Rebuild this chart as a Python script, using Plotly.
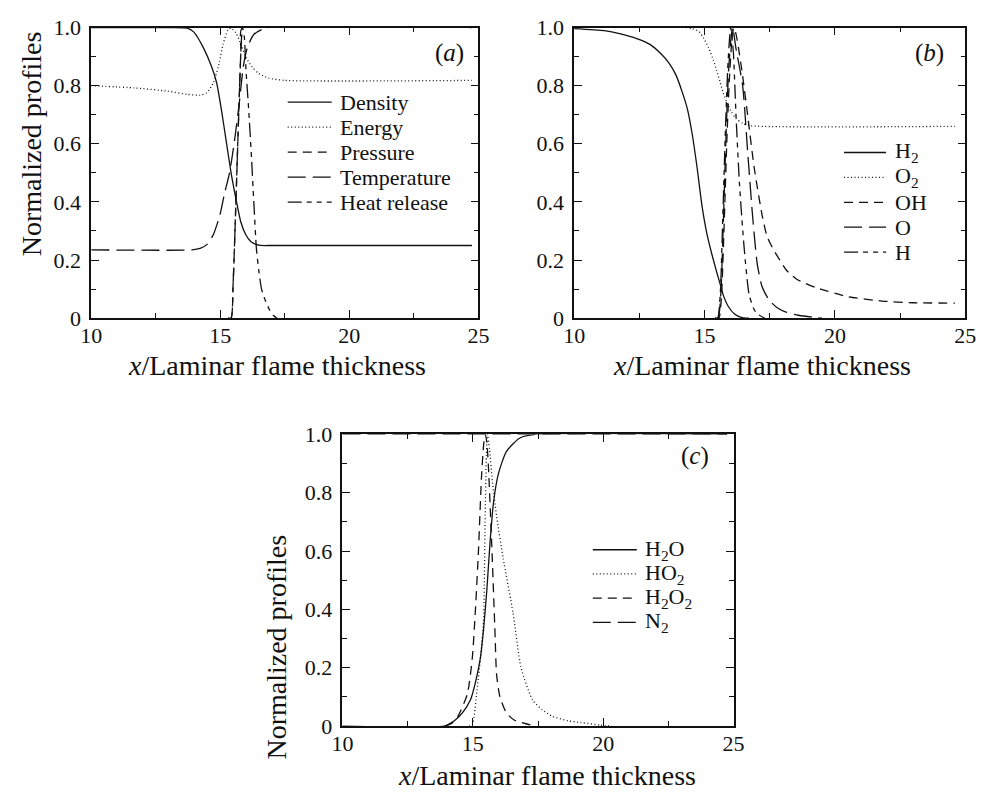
import plotly.graph_objects as go

# ---------------- data: normalized profiles vs x / laminar flame thickness ----------------
# (a) flow variables
A_DENS_X = [10, 13.0, 13.72, 13.97, 14.35, 14.67, 14.86, 15.04, 15.23, 15.42, 15.61, 15.8, 15.99, 16.18, 16.5, 17.0, 24.75]
A_DENS_Y = [1.0, 1.0, 0.998, 0.985, 0.93, 0.864, 0.81, 0.72, 0.61, 0.50, 0.41, 0.33, 0.287, 0.264, 0.251, 0.25, 0.25]

A_ENERGY_X = [10, 11.7, 12.96, 13.72, 14.22, 14.48, 14.73, 14.92, 15.11, 15.3, 15.42, 15.61, 15.8, 15.99, 16.24, 16.49, 16.87, 17.5, 24.75]
A_ENERGY_Y = [0.80, 0.792, 0.781, 0.77, 0.767, 0.776, 0.809, 0.864, 0.942, 0.992, 0.998, 0.981, 0.942, 0.898, 0.864, 0.842, 0.826, 0.818, 0.818]

A_PRESS_X = [15.3, 15.42, 15.5, 15.6, 15.7, 15.8, 15.86, 24.75]
A_PRESS_Y = [0, 0, 0.12, 0.38, 0.66, 0.92, 1.0, 1.0]

A_TEMP_X = [10, 13.9, 14.22, 14.48, 14.73, 14.98, 15.17, 15.36, 15.55, 15.74, 15.89, 16.05, 16.3, 16.75, 24.75]
A_TEMP_Y = [0.235, 0.235, 0.24, 0.253, 0.287, 0.353, 0.431, 0.5, 0.609, 0.742, 0.864, 0.931, 0.976, 0.998, 1.0]

A_HEAT_X = [15.3, 15.42, 15.5, 15.6, 15.7, 15.8, 15.86, 15.93, 16.0, 16.1, 16.2, 16.3, 16.4, 16.5, 16.6, 16.75, 16.9, 17.05, 17.2]
A_HEAT_Y = [0, 0, 0.12, 0.38, 0.66, 0.92, 1.0, 0.97, 0.85, 0.72, 0.57, 0.40, 0.24, 0.16, 0.10, 0.06, 0.03, 0.01, 0]

# (b) reactants and radicals
B_H2_X = [10, 11.15, 11.78, 12.4, 12.9, 13.28, 13.65, 13.9, 14.15, 14.34, 14.53, 14.71, 14.9, 15.09, 15.28, 15.46, 15.59, 15.71, 15.9, 16.15, 16.4, 16.7]
B_H2_Y = [0.996, 0.989, 0.978, 0.962, 0.942, 0.914, 0.876, 0.837, 0.776, 0.72, 0.631, 0.52, 0.387, 0.29, 0.22, 0.16, 0.12, 0.081, 0.042, 0.014, 0.003, 0]

B_O2_X = [10, 14.3, 14.53, 14.78, 14.96, 15.15, 15.34, 15.46, 15.59, 15.71, 15.88, 16.03, 16.21, 16.46, 16.78, 24.6]
B_O2_Y = [1.0, 1.0, 0.996, 0.987, 0.964, 0.931, 0.887, 0.853, 0.814, 0.776, 0.737, 0.709, 0.687, 0.67, 0.662, 0.66]

B_OH_X = [15.4, 15.55, 15.65, 15.75, 15.85, 15.95, 16.05, 16.12, 16.2, 16.3, 16.45, 16.65, 16.9, 17.21, 17.4, 17.65, 18.15, 18.52, 19.28, 20.5, 21.8, 23.0, 24.6]
B_OH_Y = [0, 0, 0.08, 0.32, 0.6, 0.82, 0.96, 1.0, 0.98, 0.93, 0.84, 0.70, 0.52, 0.353, 0.28, 0.235, 0.164, 0.135, 0.105, 0.074, 0.059, 0.053, 0.052]

B_O_X = [15.4, 15.52, 15.62, 15.72, 15.82, 15.92, 16.02, 16.08, 16.2, 16.46, 16.65, 16.84, 17.02, 17.2, 17.46, 17.8, 18.15, 18.6, 19.15, 19.5]
B_O_Y = [0, 0, 0.08, 0.33, 0.62, 0.85, 0.97, 1.0, 0.93, 0.80, 0.576, 0.353, 0.187, 0.11, 0.064, 0.035, 0.02, 0.01, 0.003, 0]

B_H_X = [15.4, 15.5, 15.6, 15.7, 15.8, 15.9, 16.0, 16.1, 16.21, 16.34, 16.52, 16.71, 16.9, 17.02, 17.3]
B_H_Y = [0, 0, 0.08, 0.35, 0.65, 0.88, 1.0, 0.92, 0.69, 0.46, 0.24, 0.08, 0.03, 0.015, 0]

# (c) products, intermediates and inert
C_H2O_X = [10, 13.9, 14.29, 14.6, 14.91, 15.1, 15.29, 15.42, 15.54, 15.66, 15.79, 15.98, 16.29, 16.79, 17.4, 24.75]
C_H2O_Y = [0, 0, 0.018, 0.045, 0.09, 0.15, 0.234, 0.34, 0.47, 0.63, 0.765, 0.865, 0.942, 0.987, 1.0, 1.0]

C_HO2_X = [14.85, 14.98, 15.16, 15.3, 15.41, 15.47, 15.52, 15.56, 15.64, 15.76, 15.91, 16.16, 16.54, 16.85, 17.29, 17.66, 18.04, 18.66, 19.16, 19.9, 20.3]
C_HO2_Y = [0, 0.005, 0.123, 0.24, 0.36, 0.7, 0.93, 1.0, 0.95, 0.83, 0.72, 0.577, 0.389, 0.2, 0.09, 0.056, 0.034, 0.018, 0.012, 0.003, 0]

C_H2O2_X = [13.95, 14.2, 14.41, 14.79, 14.98, 15.1, 15.22, 15.33, 15.42, 15.48, 15.54, 15.6, 15.73, 15.85, 15.91, 16.04, 16.29, 16.6, 17.04, 17.4]
C_H2O2_Y = [0, 0.01, 0.03, 0.11, 0.234, 0.4, 0.61, 0.85, 0.97, 1.0, 0.97, 0.887, 0.61, 0.32, 0.178, 0.1, 0.045, 0.02, 0.008, 0]

C_N2_X = [10, 24.75]
C_N2_Y = [1.0, 1.0]

X_TICKS = [10, 15, 20, 25]
X_TICK_TEXT = ["10", "15", "20", "25"]
X_MINOR = [12.5, 17.5, 22.5]
Y_TICKS = [0, 0.2, 0.4, 0.6, 0.8, 1.0]
Y_TICK_TEXT = ["0", "0.2", "0.4", "0.6", "0.8", "1.0"]
Y_MINOR = [0.1, 0.3, 0.5, 0.7, 0.9]

# ---------------- styling ----------------
W, H = 990, 804
FONT = "Times New Roman"
INK = "#111111"
LW = 1.3

SOLID = "solid"
DOT = "1px,2.5px"
DASH = "9px,6px"
LONG = "18px,7px"
DASHDOT = "14px,5px,5px,5px,5px,5px"


def fx(p):
    """pixel column -> paper x"""
    return p / W


def fy(p):
    """pixel row -> paper y"""
    return 1 - p / H


# plot boxes in pixels: left, right, top, bottom
BOX = {
    "a": (82, 478, 16, 316),
    "b": (576, 976, 16, 316),
    "c": (339, 739, 436, 737),
}
AX = {"a": ("x", "y"), "b": ("x2", "y2"), "c": ("x3", "y3")}

SERIES = {
    "a": [
        ("Density", A_DENS_X, A_DENS_Y, SOLID),
        ("Energy", A_ENERGY_X, A_ENERGY_Y, DOT),
        ("Pressure", A_PRESS_X, A_PRESS_Y, DASH),
        ("Temperature", A_TEMP_X, A_TEMP_Y, LONG),
        ("Heat release", A_HEAT_X, A_HEAT_Y, DASHDOT),
    ],
    "b": [
        ("H<sub>2</sub>", B_H2_X, B_H2_Y, SOLID),
        ("O<sub>2</sub>", B_O2_X, B_O2_Y, DOT),
        ("OH", B_OH_X, B_OH_Y, DASH),
        ("O", B_O_X, B_O_Y, LONG),
        ("H", B_H_X, B_H_Y, DASHDOT),
    ],
    "c": [
        ("H<sub>2</sub>O", C_H2O_X, C_H2O_Y, SOLID),
        ("HO<sub>2</sub>", C_HO2_X, C_HO2_Y, DOT),
        ("H<sub>2</sub>O<sub>2</sub>", C_H2O2_X, C_H2O2_Y, DASH),
        ("N<sub>2</sub>", C_N2_X, C_N2_Y, LONG),
    ],
}

# legend geometry (pixels): first row y, row step, sample x0, x1, text x
LEGEND = {
    "a": (93, 25.8, 283, 328, 334),
    "b": (145, 25.7, 852, 895, 902),
    "c": (555, 25.0, 595, 640, 646),
}

fig = go.Figure()

for key, series in SERIES.items():
    xa, ya = AX[key]
    for name, xs, ys, dash in series:
        fig.add_trace(go.Scatter(
            x=xs, y=ys, mode="lines", name=name, showlegend=False,
            xaxis=xa, yaxis=ya,
            line=dict(color=INK, width=LW, dash=dash, shape="spline", smoothing=0.6),
        ))

shapes = []
annotations = []

for key, series in SERIES.items():
    y0, step, sx0, sx1, tx = LEGEND[key]
    for i, (name, _, _, dash) in enumerate(series):
        yy = y0 + i * step
        shapes.append(dict(type="line", xref="paper", yref="paper",
                           x0=fx(sx0), x1=fx(sx1), y0=fy(yy), y1=fy(yy),
                           line=dict(color=INK, width=LW, dash=dash)))
        annotations.append(dict(text=name, xref="paper", yref="paper",
                                x=fx(tx), y=fy(yy), xanchor="left", yanchor="middle",
                                showarrow=False, font=dict(family=FONT, size=22, color=INK)))

# panel tags
for tag, (cx, cy) in {"a": (448, 42), "b": (939, 42), "c": (700, 458)}.items():
    annotations.append(dict(text="(<i>%s</i>)" % tag, xref="paper", yref="paper",
                            x=fx(cx), y=fy(cy), xanchor="center", yanchor="middle",
                            showarrow=False, font=dict(family=FONT, size=25, color=INK)))

# axis titles
XTITLE = "<i>x</i>/Laminar flame thickness"
YTITLE = "Normalized profiles"
for cx, cy in [(272, 365), (768, 365), (548, 788)]:
    annotations.append(dict(text=XTITLE, xref="paper", yref="paper",
                            x=fx(cx), y=fy(cy), xanchor="center", yanchor="middle",
                            showarrow=False, font=dict(family=FONT, size=28, color=INK)))
for cx, cy in [(21, 136), (272, 655)]:
    annotations.append(dict(text=YTITLE, xref="paper", yref="paper", textangle=-90,
                            x=fx(cx), y=fy(cy), xanchor="center", yanchor="middle",
                            showarrow=False, font=dict(family=FONT, size=28, color=INK)))


def xaxis(key):
    l, r, t, b = BOX[key]
    return dict(domain=[fx(l), fx(r)], anchor=AX[key][1], range=[10, 25],
                showline=True, linecolor=INK, linewidth=1.5, mirror="allticks",
                ticks="inside", ticklen=8, tickwidth=1.3, tickcolor=INK,
                tickvals=X_TICKS, ticktext=X_TICK_TEXT, ticklabelstandoff=-3,
                tickfont=dict(family=FONT, size=22, color=INK),
                minor=dict(tickvals=X_MINOR, ticks="inside", ticklen=5, tickwidth=1.2, tickcolor=INK),
                showgrid=False, zeroline=False, fixedrange=True)


def yaxis(key):
    l, r, t, b = BOX[key]
    return dict(domain=[fy(b), fy(t)], anchor=AX[key][0], range=[0, 1],
                showline=True, linecolor=INK, linewidth=1.5, mirror="allticks",
                ticks="inside", ticklen=8, tickwidth=1.3, tickcolor=INK,
                tickvals=Y_TICKS, ticktext=Y_TICK_TEXT, ticklabelstandoff=4,
                tickfont=dict(family=FONT, size=22, color=INK),
                minor=dict(tickvals=Y_MINOR, ticks="inside", ticklen=5, tickwidth=1.2, tickcolor=INK),
                showgrid=False, zeroline=False, fixedrange=True)


fig.update_layout(
    width=W, height=H,
    margin=dict(l=0, r=0, t=0, b=0),
    paper_bgcolor="white", plot_bgcolor="white",
    showlegend=False,
    xaxis=xaxis("a"), yaxis=yaxis("a"),
    xaxis2=xaxis("b"), yaxis2=yaxis("b"),
    xaxis3=xaxis("c"), yaxis3=yaxis("c"),
    shapes=shapes, annotations=annotations,
    font=dict(family=FONT, color=INK),
)

fig.write_html("out.html", config={"displayModeBar": False})
